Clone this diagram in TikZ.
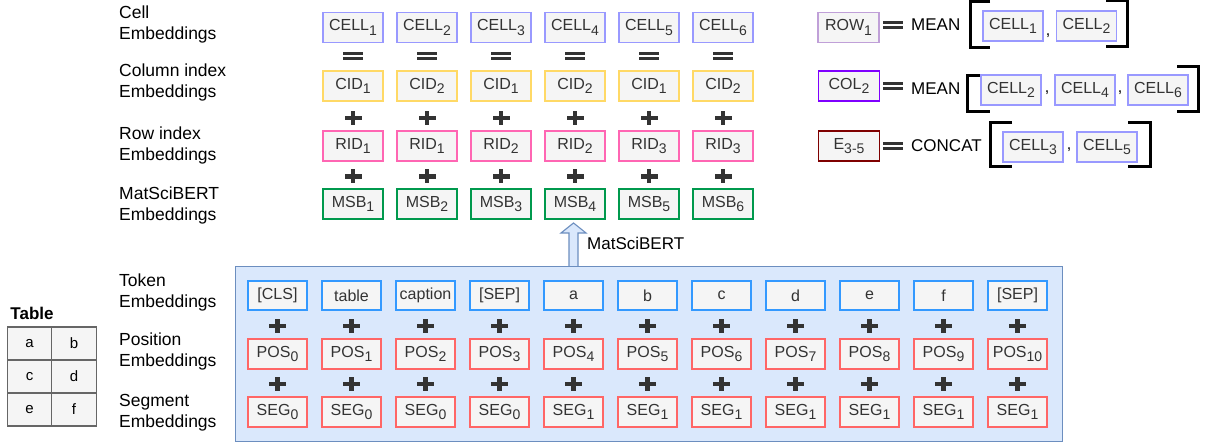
\documentclass[tikz,border=0pt]{standalone}
\usepackage{fontspec}
\setmainfont{Liberation Sans}
\usetikzlibrary{positioning}

\definecolor{boxfill}{HTML}{F5F5F5}
\definecolor{txtgray}{HTML}{333333}
\definecolor{symc}{HTML}{333333}
\definecolor{cellc}{HTML}{9999FF}
\definecolor{cidc}{HTML}{FFD966}
\definecolor{ridc}{HTML}{FF66B3}
\definecolor{msbc}{HTML}{00994D}
\definecolor{rowc}{HTML}{C0A0D8}
\definecolor{colc}{HTML}{7F00FF}
\definecolor{ec}{HTML}{7F0000}
\definecolor{tokc}{HTML}{3399FF}
\definecolor{posc}{HTML}{FF6666}
\definecolor{panelfill}{HTML}{DAE8FC}
\definecolor{paneldraw}{HTML}{6C8EBF}
\definecolor{gridc}{HTML}{666666}

\newcommand{\ix}[1]{\raisebox{-0.28em}{\fontsize{14}{14}\selectfont #1}}

\tikzset{
  emb/.style={draw, line width=1.3pt, fill=boxfill, minimum width=60, minimum height=30,
    inner sep=0pt, text=txtgray, font=\fontsize{16}{16}\selectfont},
  cellbox/.style={emb, draw=cellc},
  cidbox/.style={emb, draw=cidc},
  ridbox/.style={emb, draw=ridc},
  msbbox/.style={emb, draw=msbc},
  rowbox/.style={emb, draw=rowc, minimum width=61},
  colbox/.style={emb, draw=colc, minimum width=61},
  ebox/.style={emb, draw=ec, minimum width=61},
  tokbox/.style={emb, draw=tokc, minimum width=59, minimum height=29},
  posbox/.style={emb, draw=posc, minimum width=59},
  lbl/.style={anchor=west, align=left, inner sep=0pt, font=\fontsize{17.5}{21}\selectfont},
  opname/.style={anchor=west, inner sep=0pt, font=\fontsize{17}{17}\selectfont},
  commanode/.style={inner sep=0pt, font=\fontsize{16}{16}\selectfont},
  brk/.style={line width=3pt},
  panel/.style={draw=paneldraw, fill=panelfill, line width=1.3pt, inner sep=0pt},
  bertarrow/.style={draw=paneldraw, fill=panelfill, line width=1.1pt},
  gridcell/.style={draw=gridc, fill=boxfill, line width=1.1pt, minimum width=44.5,
    minimum height=33, inner sep=0pt, font=\fontsize{15}{15}\selectfont},
  eqsign/.pic={\fill[symc] (-10,-4) rectangle (10,-1); \fill[symc] (-10,1) rectangle (10,4);},
  plussign/.pic={\fill[symc] (-8.5,-2.3) rectangle (8.5,2.3); \fill[symc] (-2.3,-7) rectangle (2.3,7);}
}

\begin{document}
\begin{tikzpicture}[x=1pt,y=-1pt]
\useasboundingbox (0,0) rectangle (1207,443);

% row labels
\node[lbl] (lcell) at (119,24.5) {Cell\\Embeddings};
\node[lbl] (lcid) at (119,82.5) {Column index\\Embeddings};
\node[lbl] (lrid) at (119,145.5) {Row index\\Embeddings};
\node[lbl] (lmsb) at (119,205.5) {MatSciBERT\\Embeddings};
\node[lbl] (ltok) at (119,292.5) {Token\\Embeddings};
\node[lbl] (lpos) at (119,351.5) {Position\\Embeddings};
\node[lbl] (lseg) at (119,412.5) {Segment\\Embeddings};

% cell embeddings
\foreach \i/\c/\r in {1/1/1,2/2/1,3/1/2,4/2/2,5/1/3,6/2/3}{
  \pgfmathsetmacro{\x}{279+74*\i}
  \node[cellbox] (cell\i) at (\x,27.5) {CELL\ix{\i}};
  \pic at (\x,56.5) {eqsign};
  \node[cidbox] (cid\i) at (\x,86) {CID\ix{\c}};
  \pic at (\x,118) {plussign};
  \node[ridbox] (rid\i) at (\x,146) {RID\ix{\r}};
  \pic at (\x,176.5) {plussign};
  \node[msbbox] (msb\i) at (\x,204) {MSB\ix{\i}};
}

% input
\node[panel, minimum width=827, minimum height=175, anchor=north west] (inbox) at (235,266) {};
\foreach \t [count=\i from 0] in {{[CLS]},table,caption,{[SEP]},a,b,c,d,e,f,{[SEP]}}{
  \pgfmathsetmacro{\x}{277.5+74*\i}
  \pgfmathtruncatemacro{\s}{\i>3}
  \node[tokbox] (tok\i) at (\x,295.5) {\t};
  \pic at (\x,326) {plussign};
  \node[posbox] (pos\i) at (\x,354) {POS\ix{\i}};
  \pic at (\x,384) {plussign};
  \node[posbox] (seg\i) at (\x,412) {SEG\ix{\s}};
}

% MatSciBERT arrow
\coordinate (abase) at (tok4.north |- inbox.north);
\filldraw[bertarrow] ([xshift=-4.5]abase) -- ++(0,-33) -- ++(-8,0) -- ++(12.5,-10)
  -- ++(12.5,10) -- ++(-8,0) -- ++(0,33);
\node[opname] (bertlbl) at (587,243) {MatSciBERT};

% table
\node[inner sep=0pt, font=\bfseries\fontsize{17}{17}\selectfont] (ttitle) at (32,313) {Table};
\foreach \t [count=\k from 0] in {a,b,c,d,e,f}{
  \pgfmathtruncatemacro{\cc}{mod(\k,2)}
  \pgfmathtruncatemacro{\rr}{int(\k/2)}
  \node[gridcell] (g\t) at (29.5+44.5*\cc,343.5+33*\rr) {\t};
}

% ROW
\node[rowbox] (row1) at (848.5,27.5) {ROW\ix{1}};
\pic at (893,25) {eqsign};
\node[opname] (mean1) at (911,25) {MEAN};
\draw[brk] (990,2) -- (970,2) -- (970,48) -- (990,48);
\node[cellbox] (ra) at (1013,26) {CELL\ix{1}};
\node[commanode] (ca) at (1048,36) {,};
\node[cellbox] (rb) at (1086.5,26) {CELL\ix{2}};
\draw[brk] (1106,1) -- (1127,1) -- (1127,47) -- (1106,47);

% COL
\node[colbox] (col2) at (849,86) {COL\ix{2}};
\pic at (893,86) {eqsign};
\node[opname] (mean2) at (911,89) {MEAN};
\draw[brk] (990,76) -- (967,76) -- (967,112) -- (990,112);
\node[cellbox] (rc) at (1011,90) {CELL\ix{2}};
\node[commanode] (cb) at (1047,93) {,};
\node[cellbox] (rd) at (1085,90) {CELL\ix{4}};
\node[commanode] (cc) at (1120,93) {,};
\node[cellbox] (re) at (1158,90) {CELL\ix{6}};
\draw[brk] (1177,67) -- (1198,67) -- (1198,112) -- (1177,112);

% E
\node[ebox] (e35) at (849,146) {E\ix{3-5}};
\pic at (893,146) {eqsign};
\node[opname] (concat) at (911,146) {CONCAT};
\draw[brk] (1012,123) -- (990,123) -- (990,167) -- (1012,167);
\node[cellbox] (rf) at (1033,147) {CELL\ix{3}};
\node[commanode] (cd) at (1069,150) {,};
\node[cellbox] (rg) at (1107,147) {CELL\ix{5}};
\draw[brk] (1128,123) -- (1150,123) -- (1150,167) -- (1128,167);

\end{tikzpicture}
\end{document}
